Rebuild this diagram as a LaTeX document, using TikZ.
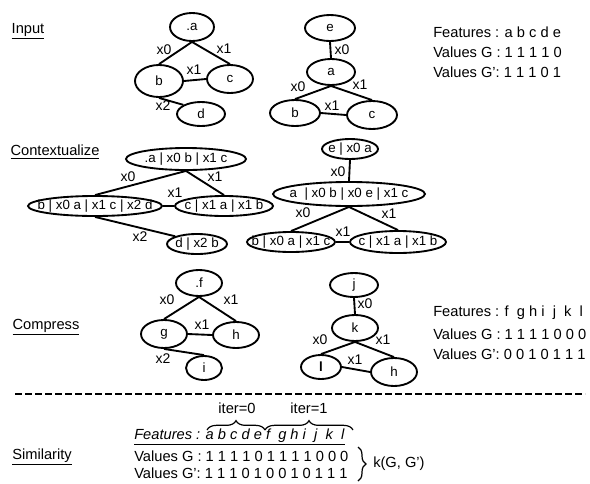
\documentclass[tikz,border=0pt]{standalone}
\usepackage{fontspec}
\setmainfont{Liberation Sans}
\usetikzlibrary{shapes.geometric,decorations.pathreplacing}
\begin{document}
\begin{tikzpicture}[x=0.75pt,y=-0.75pt,
  el/.style n args={3}{ellipse, draw, line width=1.4pt, inner sep=0pt,
     minimum width=#1, minimum height=#2,
     label={[inner sep=0pt,font=\fontsize{10}{12}\selectfont]center:#3}},
  edge/.style={line width=1.4pt},
  elbl/.style={inner sep=0pt, font=\fontsize{10.5}{12}\selectfont},
  sect/.style={inner sep=0pt, font=\fontsize{11}{13}\selectfont},
  feat/.style={inner sep=0pt, anchor=west, font=\fontsize{11}{13}\selectfont},
  brc/.style={decorate, decoration={brace, amplitude=#1}, line width=0.9pt}
]
\useasboundingbox (0,0) rectangle (590,483);

% ---------- Input ----------
\node[sect] (lInput) at (28,31) {\underline{Input}};
\node[el={33pt}{21pt}{.a}] (a) at (192,27) {};
\node[el={36pt}{24pt}{b}] (b) at (159,81) {};
\node[el={34.5pt}{21pt}{c}] (c) at (230,79) {};
\node[el={36pt}{18pt}{d}] (d) at (201,114) {};
\draw[edge] (a.south) -- (b.north);
\draw[edge] (a.south) -- (c.north);
\draw[edge] (b.east) -- (c.west);
\draw[edge] (b.south) -- (d.north west);
\node[elbl] (la1) at (164,50) {x0};
\node[elbl] (la2) at (224,49) {x1};
\node[elbl] (la3) at (194,70) {x1};
\node[elbl] (la4) at (163,106) {x2};

\node[el={37.5pt}{19.5pt}{e}] (e) at (330,28) {};
\node[el={36pt}{19.5pt}{a}] (a2) at (331,72) {};
\node[el={37.5pt}{19.5pt}{b}] (b2) at (295,113) {};
\node[el={37.5pt}{21pt}{c}] (c2) at (372,115) {};
\draw[edge] (e.south) -- (a2.north);
\draw[edge] (a2.south) -- (b2.north);
\draw[edge] (a2.south) -- (c2.north);
\draw[edge] (b2.east) -- (c2.west);
\node[elbl] (lb1) at (342,50) {x0};
\node[elbl] (lb2) at (298,87) {x0};
\node[elbl] (lb3) at (360,85) {x1};
\node[elbl] (lb4) at (332,106) {x1};

\node[feat] (f1) at (433,32) {Features : a b c d e};
\node[feat] (f2) at (433,52) {Values G : 1 1 1 1 0};
\node[feat] (f3) at (433,72) {Values G’: 1 1 1 0 1};

% ---------- Contextualize ----------
\node[sect] (lCtx) at (55,152) {\underline{Contextualize}};
\node[el={90pt}{16.5pt}{.a | x0 b | x1 c}] (ca) at (186,159) {};
\node[el={100.5pt}{15pt}{b | x0 a | x1 c | x2 d}] (cb) at (95,206) {};
\node[el={73.5pt}{15pt}{c | x1 a | x1 b}] (cc) at (224,206) {};
\node[el={45pt}{15pt}{d | x2 b}] (cd) at (197,244) {};
\draw[edge] (ca.south) -- (cb.north);
\draw[edge] (ca.south) -- (cc.north);
\draw[edge] (cb.east) -- (cc.west);
\draw[edge] (cb.south) -- (cd.north west);
\node[elbl] (lc1) at (128,177) {x0};
\node[elbl] (lc2) at (215,177) {x1};
\node[elbl] (lc3) at (175,193) {x1};
\node[elbl] (lc4) at (140,237) {x2};

\node[el={42pt}{15pt}{e | x0 a}] (ce) at (350,149) {};
\node[el={114pt}{18pt}{a \ | x0 b | x0 e | x1 c}] (ca2) at (349,194) {};
\node[el={66pt}{15pt}{b | x0 a | x1 c}] (cb2) at (291,242) {};
\node[el={72pt}{16.5pt}{c | x1 a | x1 b}] (cc2) at (398,242) {};
\draw[edge] (ce.south) -- (ca2.north);
\draw[edge] (ca2.south) -- (cb2.north);
\draw[edge] (ca2.south) -- (cc2.north);
\draw[edge] (cb2.east) -- (cc2.west);
\node[elbl] (ld1) at (338,172) {x0};
\node[elbl] (ld2) at (303,213) {x0};
\node[elbl] (ld3) at (389,214) {x1};
\node[elbl] (ld4) at (343,232) {x1};

% ---------- Compress ----------
\node[sect] (lCmp) at (46,327) {\underline{Compress}};
\node[el={34.5pt}{19.5pt}{.f}] (f) at (199,283) {};
\node[el={34.5pt}{21pt}{g}] (g) at (164,334) {};
\node[el={34.5pt}{19.5pt}{h}] (h) at (236,335) {};
\node[el={27pt}{18pt}{i}] (i) at (204,368) {};
\draw[edge] (f.south) -- (g.north);
\draw[edge] (f.south) -- (h.north);
\draw[edge] (g.east) -- (h.west);
\draw[edge] (g.south) -- (i.north);
\node[elbl] (le1) at (167,300) {x0};
\node[elbl] (le2) at (231,300) {x1};
\node[elbl] (le3) at (202,325) {x1};
\node[elbl] (le4) at (163,359) {x2};

\node[el={36pt}{18pt}{j}] (j) at (354,285) {};
\node[el={34.5pt}{19.5pt}{k}] (k) at (355,328) {};
\node[el={30pt}{18pt}{\textbf{l}}] (l) at (321,367) {};
\node[el={34.5pt}{21pt}{h}] (h2) at (394,372) {};
\draw[edge] (j.south) -- (k.north);
\draw[edge] (k.south) -- (l.north);
\draw[edge] (k.south) -- (h2.north);
\draw[edge] (l.east) -- (h2.west);
\node[elbl] (lf1) at (365,304) {x0};
\node[elbl] (lf2) at (320,340) {x0};
\node[elbl] (lf3) at (383,340) {x1};
\node[elbl] (lf4) at (355,360) {x1};

\node[feat] (g1) at (433,313) {Features : f\ \ g h i\ \ j\ \ k\ \ l};
\node[feat] (g2) at (433,334) {Values G : 1 1 1 1 0 0 0};
\node[feat] (g3) at (433,354) {Values G’: 0 0 1 0 1 1 1};

% ---------- separator ----------
\coordinate (sepL) at (15,394);
\coordinate (sepR) at (585,394);
\draw[line width=1.5pt, dash pattern=on 5pt off 2.5pt] (sepL) -- (sepR);

% ---------- Similarity ----------
\node[sect] (lSim) at (42,457) {\underline{Similarity}};
\node[elbl, font=\fontsize{11}{13}\selectfont] (it0) at (237,408) {iter=0};
\node[elbl, font=\fontsize{11}{13}\selectfont] (it1) at (309,408) {iter=1};
\coordinate (b0l) at (207,430);
\coordinate (b0r) at (265,430);
\coordinate (b1r) at (353,430);
\draw[brc=7pt] (b0l) -- (b0r);
\draw[brc=7pt] (b0r) -- (b1r);
\node[feat] (s1) at (134,437) {\underline{\textit{Features : a b c d e f\ \ g h i\ \ j\ \ k\ \ l}}};
\node[feat] (s2) at (134,456) {Values G : 1 1 1 1 0 1 1 1 1 0 0 0};
\node[feat] (s3) at (134,473) {Values G’: 1 1 1 0 1 0 0 1 0 1 1 1};
\coordinate (kt) at (358,447);
\coordinate (kb) at (358,481);
\draw[brc=6pt] (kt) -- (kb);
\node[feat] (kres) at (373,464) {k(G, G’)};
\end{tikzpicture}
\end{document}
